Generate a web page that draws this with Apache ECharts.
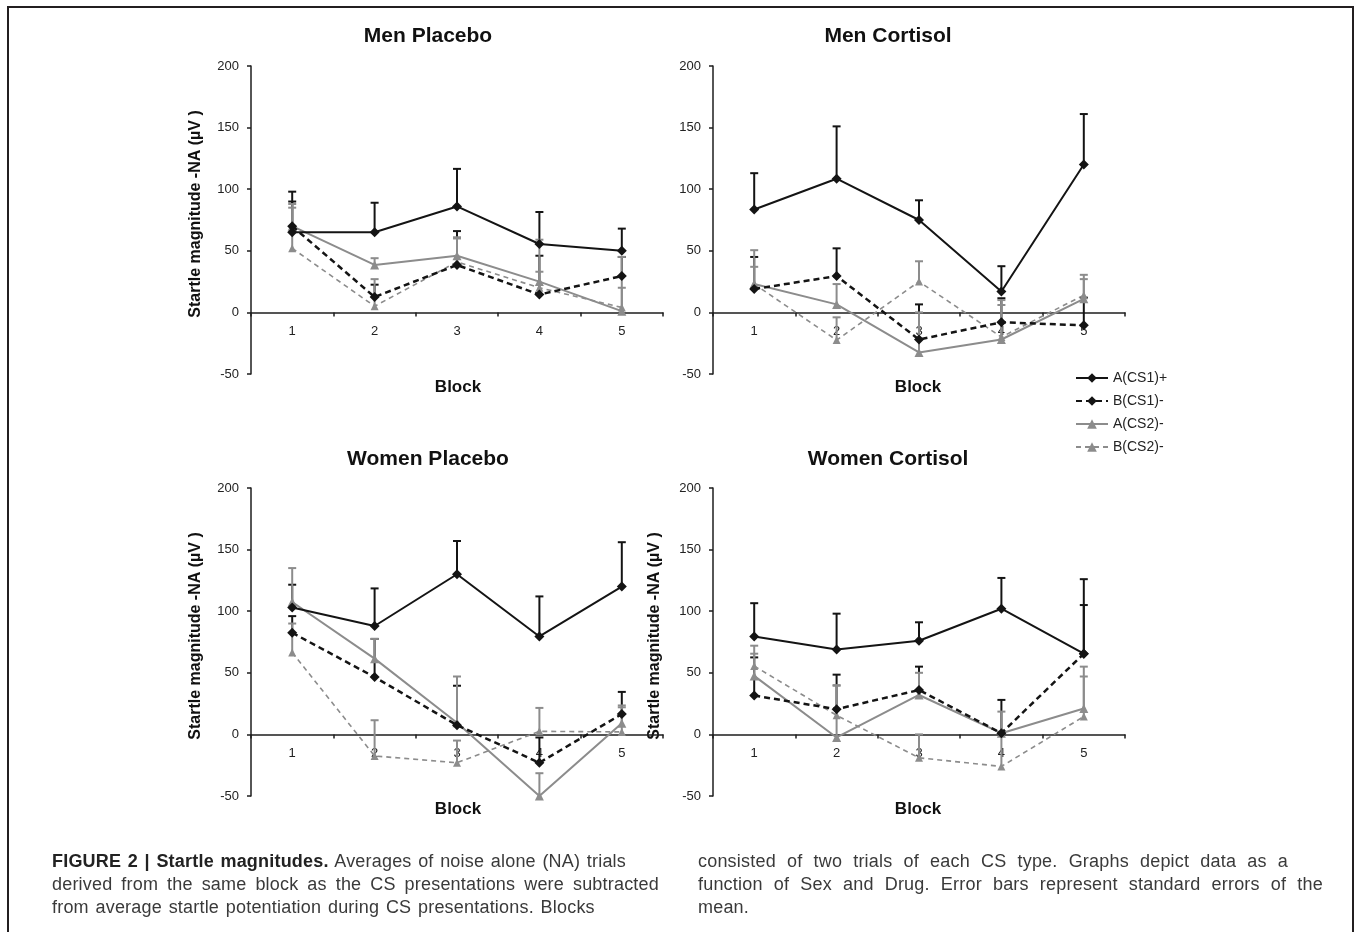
<!DOCTYPE html>
<html><head><meta charset="utf-8">
<script src="https://cdn.jsdelivr.net/npm/echarts@6/dist/echarts.min.js"></script>
<style>
html,body{margin:0;padding:0;background:#fff;width:1355px;height:932px;overflow:hidden}
#frame{position:absolute;left:7px;top:6px;width:1347px;height:940px;border:2px solid #231f20;border-bottom:none;box-sizing:border-box}
#chart{position:absolute;left:0;top:0;width:1355px;height:932px}
.cap{position:absolute;font-family:'Liberation Sans',Arial,Helvetica,sans-serif;font-size:18px;letter-spacing:0.2px;color:#3a3a3a;line-height:23px;white-space:nowrap}
.j{white-space:normal;text-align:justify;text-align-last:justify;height:23px;overflow:hidden}
</style></head><body>
<div id="chart"></div>
<div id="frame"></div>
<div class="cap j" style="left:52px;top:850px;width:574px"><b style="color:#222">FIGURE 2 | Startle magnitudes.</b> Averages of noise alone (NA) trials</div>
<div class="cap j" style="left:52px;top:873px;width:607px">derived from the same block as the CS presentations were subtracted</div>
<div class="cap" style="left:52px;top:896px;word-spacing:1.5px">from average startle potentiation during CS presentations. Blocks</div>
<div class="cap j" style="left:698px;top:850px;width:590px">consisted of two trials of each CS type. Graphs depict data as a</div>
<div class="cap j" style="left:698px;top:873px;width:625px">function of Sex and Drug. Error bars represent standard errors of the</div>
<div class="cap" style="left:698px;top:896px">mean.</div>
<script>
// ---- data ----
const blocks = ['1', '2', '3', '4', '5'];
const seriesNames = ['A(CS1)+', 'B(CS1)-', 'A(CS2)-', 'B(CS2)-'];
const panelTitles = ['Men Placebo', 'Men Cortisol', 'Women Placebo', 'Women Cortisol'];
const yTicks = [-50, 0, 50, 100, 150, 200];

// Men Placebo
const menPlacebo_A1 = [65, 65, 86, 55.5, 50];
const menPlacebo_A1_up = [98, 89, 116.5, 81.5, 68];
const menPlacebo_B1 = [70, 12.5, 38.5, 14.5, 29.5];
const menPlacebo_B1_up = [90, 22.5, 66, 46, 45];
const menPlacebo_A2 = [70, 38.5, 46, 25, 1];
const menPlacebo_A2_up = [88, 44, 61, 59, 45];
const menPlacebo_B2 = [52, 5, 41, 20, 4];
const menPlacebo_B2_up = [85, 27, 60, 33, 20];

// Men Cortisol
const menCortisol_A1 = [83.5, 108.5, 75, 17, 120];
const menCortisol_A1_up = [113, 151, 91, 37.5, 161];
const menCortisol_B1 = [19, 29.5, -22, -8, -10.5];
const menCortisol_B1_up = [45, 52, 6.5, 11.5, 12];
const menCortisol_A2 = [23, 6.5, -32.5, -22, 11];
const menCortisol_A2_up = [37, 23, 0, 10, 27];
const menCortisol_B2 = [23, -22.5, 25, -20, 14];
const menCortisol_B2_up = [50.5, -4, 41.5, 6, 30.5];

// Women Placebo
const womenPlacebo_A1 = [103, 88, 130, 79.5, 120];
const womenPlacebo_A1_up = [121.5, 118.5, 157, 112, 156];
const womenPlacebo_B1 = [82.5, 46.5, 7.5, -23, 16.5];
const womenPlacebo_B1_up = [96, 77.5, 39.5, -2.5, 34.5];
const womenPlacebo_A2 = [107.5, 61.5, 9.5, -50, 9];
const womenPlacebo_A2_up = [135, 77.5, 47, -31.5, 23.5];
const womenPlacebo_B2 = [66.5, -17.5, -23, 2.5, 2];
const womenPlacebo_B2_up = [90, 11.5, -5, 21.5, 22];

// Women Cortisol
const womenCortisol_A1 = [79.5, 69, 76, 102, 65.5];
const womenCortisol_A1_up = [106.5, 98, 91, 127, 126];
const womenCortisol_B1 = [31.5, 20.5, 36, 1, 65.5];
const womenCortisol_B1_up = [62.5, 48.5, 55, 28, 105];
const womenCortisol_A2 = [47.5, -2.5, 32, 1, 21];
const womenCortisol_A2_up = [72, 40, 50, 18.5, 55];
const womenCortisol_B2 = [55.5, 15.5, -19, -26, 14.5];
const womenCortisol_B2_up = [65.5, 39.5, 0, 1, 47];

const panels = [
  [menPlacebo_A1, menPlacebo_B1, menPlacebo_A2, menPlacebo_B2],
  [menCortisol_A1, menCortisol_B1, menCortisol_A2, menCortisol_B2],
  [womenPlacebo_A1, womenPlacebo_B1, womenPlacebo_A2, womenPlacebo_B2],
  [womenCortisol_A1, womenCortisol_B1, womenCortisol_A2, womenCortisol_B2]
];
const panelsUp = [
  [menPlacebo_A1_up, menPlacebo_B1_up, menPlacebo_A2_up, menPlacebo_B2_up],
  [menCortisol_A1_up, menCortisol_B1_up, menCortisol_A2_up, menCortisol_B2_up],
  [womenPlacebo_A1_up, womenPlacebo_B1_up, womenPlacebo_A2_up, womenPlacebo_B2_up],
  [womenCortisol_A1_up, womenCortisol_B1_up, womenCortisol_A2_up, womenCortisol_B2_up]
];

// ---- styles ----
const BLACK = '#141414', GRAY = '#8c8c8c';
const styles = [
  {color: BLACK, type: 'solid', width: 2, symbol: 'diamond', size: 10},
  {color: BLACK, type: [6, 4], width: 2.5, symbol: 'diamond', size: 10},
  {color: GRAY, type: 'solid', width: 2, symbol: 'triangle', size: 9},
  {color: GRAY, type: [5, 4], width: 1.6, symbol: 'triangle', size: 8}
];
const FONT = "'Liberation Sans', Arial, Helvetica, sans-serif";
const YMIN = -50, YMAX = 200;
const grids = [
  {left: 251, top: 66, width: 412, height: 308},
  {left: 713, top: 66, width: 412, height: 308},
  {left: 251, top: 488, width: 412, height: 308},
  {left: 713, top: 488, width: 412, height: 308}
];
const titlePos = [[428, 26], [888, 26], [428, 449], [888, 449]];
const blockPos = [[458, 379], [918, 379], [458, 801], [918, 801]];

const axisLineStyle = {color: '#1e1e1e', width: 1.5};
const option = {
  backgroundColor: '#fff',
  animation: false,
  textStyle: {fontFamily: FONT},
  title: [
    ...panelTitles.map((t, i) => ({text: t, left: titlePos[i][0], top: titlePos[i][1], textAlign: 'center', padding: 0,
      textStyle: {fontFamily: FONT, fontSize: 21, fontWeight: 'bold', color: '#111'}})),
    ...blockPos.map(p => ({text: 'Block', left: p[0], top: p[1], textAlign: 'center', padding: 0,
      textStyle: {fontFamily: FONT, fontSize: 17, fontWeight: 'bold', color: '#111'}}))
  ],
  legend: {
    data: seriesNames, orient: 'vertical', left: 1070, top: 366, itemGap: 9,
    itemWidth: 32, itemHeight: 12,
    textStyle: {fontFamily: FONT, fontSize: 14, color: '#222'}
  },
  grid: grids,
  xAxis: grids.map((g, i) => ({
    type: 'category', gridIndex: i, data: blocks, boundaryGap: true, position: 'bottom',
    // move the whole axis (line, ticks, labels) up to the value 0
    offset: -g.height * (0 - YMIN) / (YMAX - YMIN),
    axisLine: {onZero: false, lineStyle: axisLineStyle},
    axisTick: {show: true, length: 4, lineStyle: axisLineStyle},
    axisLabel: {fontFamily: FONT, fontSize: 13, color: '#222', margin: 13},
    splitLine: {show: false}
  })),
  yAxis: grids.map((g, i) => ({
    type: 'value', gridIndex: i, min: YMIN, max: YMAX, interval: 50,
    name: i === 1 ? '' : 'Startle magnitude -NA (µV )',
    nameLocation: 'middle', nameRotate: 90, nameGap: i === 3 ? 50 : 47,
    nameTextStyle: {fontFamily: FONT, fontSize: 16, fontWeight: 'bold', color: '#111', padding: [0, 0, 0, 12]},
    axisLine: {show: true, onZero: false, lineStyle: axisLineStyle},
    axisTick: {show: true, length: 4, lineStyle: axisLineStyle},
    axisLabel: {fontFamily: FONT, fontSize: 13, color: '#222', margin: 12,
      formatter: v => yTicks.includes(v) ? String(v) : ''},
    splitLine: {show: false}
  })),
  series: []
};

function errSeries(gi, mean, up, st) {
  return {
    type: 'custom', xAxisIndex: gi, yAxisIndex: gi, silent: true, z: 1,
    encode: {x: 0, y: [1, 2]},
    data: mean.map((m, i) => [i, m, up[i]]),
    renderItem: function (params, api) {
      const p0 = api.coord([api.value(0), api.value(1)]);
      const p1 = api.coord([api.value(0), api.value(2)]);
      const lw = 2;
      return {type: 'group', children: [
        {type: 'line', shape: {x1: p0[0], y1: p0[1], x2: p1[0], y2: p1[1]}, style: {stroke: st.color, lineWidth: lw}},
        {type: 'line', shape: {x1: p1[0] - 4, y1: p1[1], x2: p1[0] + 4, y2: p1[1]}, style: {stroke: st.color, lineWidth: lw}}
      ]};
    }
  };
}

panels.forEach((pdata, gi) => {
  pdata.forEach((vals, si) => {
    option.series.push(errSeries(gi, vals, panelsUp[gi][si], styles[si]));
  });
  pdata.forEach((vals, si) => {
    const st = styles[si];
    option.series.push({
      type: 'line', name: seriesNames[si], xAxisIndex: gi, yAxisIndex: gi, data: vals,
      symbol: st.symbol, symbolSize: st.size, showSymbol: true, z: 2 + (si < 2 ? 2 : 0),
      lineStyle: {color: st.color, width: st.width, type: st.type},
      itemStyle: {color: st.color, borderWidth: 0},
      emphasis: {disabled: true}
    });
  });
});

const chart = echarts.init(document.getElementById('chart'), null, {renderer: 'canvas'});
chart.setOption(option);
</script>
</body></html>
